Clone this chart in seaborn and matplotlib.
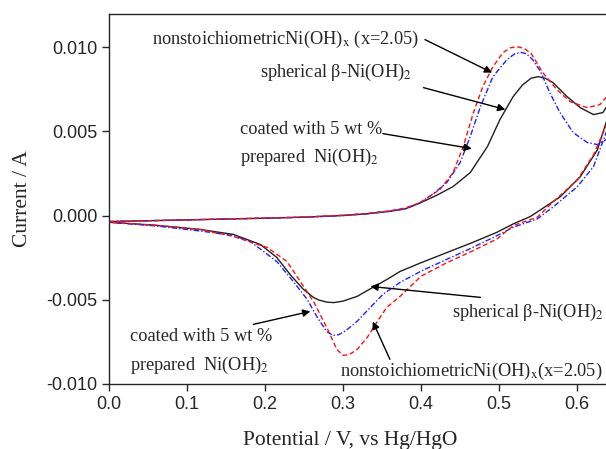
import numpy as np
import pandas as pd
import seaborn as sb
import matplotlib.pyplot as plt

# cyclic voltammograms: anodic sweep then cathodic sweep (V, A)
black_fwd_v = [0.0, 0.05, 0.1, 0.15, 0.2, 0.25, 0.3, 0.33, 0.36, 0.38, 0.399, 0.42, 0.441, 0.463,
               0.485, 0.501, 0.518, 0.53, 0.541, 0.55, 0.559, 0.569, 0.587, 0.604, 0.621, 0.633,
               0.648]
black_fwd = [-0.00036, -0.00031, -0.00026, -0.00021, -0.00016, -0.0001, 0.0, 0.0001, 0.00025,
             0.0004, 0.00075, 0.0012, 0.00172, 0.00255, 0.00409, 0.00569, 0.00706, 0.00775,
             0.00815, 0.00824, 0.00815, 0.00789, 0.00706, 0.0064, 0.00599, 0.00611, 0.0072]
black_rev_v = [0.648, 0.637, 0.626, 0.604, 0.578, 0.54, 0.518, 0.497, 0.466, 0.433, 0.4, 0.373,
               0.356, 0.338, 0.318, 0.3, 0.288, 0.279, 0.269, 0.262, 0.249, 0.232, 0.215, 0.194,
               0.159, 0.117, 0.06, 0.0]
black_rev = [0.0068, 0.0055, 0.0039, 0.0023, 0.0011, -0.00006, -0.0005, -0.001, -0.0016, -0.0022,
             -0.0028, -0.00332, -0.0038, -0.00427, -0.0048, -0.00508, -0.00517, -0.00514,
             -0.00502, -0.00486, -0.00438, -0.0035, -0.00249, -0.00172, -0.00112, -0.00083,
             -0.00058, -0.0004]

blue_fwd_v = [0.0, 0.05, 0.1, 0.15, 0.2, 0.25, 0.3, 0.33, 0.36, 0.38, 0.399, 0.416, 0.433, 0.45,
              0.463, 0.476, 0.492, 0.51, 0.52, 0.528, 0.535, 0.543, 0.553, 0.565, 0.578, 0.595,
              0.613, 0.626, 0.637, 0.648]
blue_fwd = [-0.00036, -0.00031, -0.00026, -0.00021, -0.00016, -0.0001, 0.0, 0.0001, 0.00025,
            0.0004, 0.00077, 0.0013, 0.00196, 0.00314, 0.00469, 0.00646, 0.00824, 0.00925,
            0.0096, 0.00968, 0.0096, 0.00925, 0.00855, 0.00729, 0.00611, 0.00492, 0.00433,
            0.00421, 0.0045, 0.0051]
blue_rev_v = [0.648, 0.637, 0.621, 0.6, 0.569, 0.549, 0.518, 0.497, 0.466, 0.433, 0.4, 0.373,
              0.351, 0.335, 0.318, 0.303, 0.294, 0.287, 0.279, 0.267, 0.254, 0.236, 0.215, 0.181,
              0.159, 0.117, 0.06, 0.0]
blue_rev = [0.0062, 0.0049, 0.0029, 0.0017, 0.0005, -0.0002, -0.0007, -0.0012, -0.0019, -0.0026,
            -0.0033, -0.00397, -0.00468, -0.00545, -0.00628, -0.00685, -0.00708, -0.00712,
            -0.00688, -0.00605, -0.00498, -0.00391, -0.00273, -0.00154, -0.00118, -0.00092,
            -0.00062, -0.0004]

red_fwd_v = [0.0, 0.05, 0.1, 0.15, 0.2, 0.25, 0.3, 0.33, 0.36, 0.38, 0.399, 0.424, 0.441, 0.454,
             0.467, 0.479, 0.492, 0.505, 0.514, 0.523, 0.532, 0.541, 0.556, 0.574, 0.591, 0.613,
             0.629, 0.637, 0.648]
red_fwd = [-0.00036, -0.00031, -0.00026, -0.0002, -0.00015, -0.00009, 0.00002, 0.00012, 0.00028,
           0.00045, 0.00077, 0.00154, 0.00255, 0.00409, 0.0061, 0.00764, 0.00883, 0.00966,
           0.00995, 0.01002, 0.00992, 0.00962, 0.00848, 0.00747, 0.00676, 0.0064, 0.00658,
           0.007, 0.0076]
red_rev_v = [0.648, 0.637, 0.621, 0.6, 0.569, 0.549, 0.518, 0.497, 0.466, 0.433, 0.4, 0.373,
             0.356, 0.344, 0.331, 0.318, 0.308, 0.3, 0.292, 0.279, 0.262, 0.245, 0.228, 0.203,
             0.159, 0.117, 0.06, 0.0]
red_rev = [0.0066, 0.0053, 0.0036, 0.0021, 0.0008, -0.0001, -0.0006, -0.0014, -0.0021, -0.0028,
           -0.0036, -0.0048, -0.00545, -0.00628, -0.00723, -0.00795, -0.00826, -0.0083, -0.00795,
           -0.00664, -0.0051, -0.00391, -0.00273, -0.0019, -0.00124, -0.00083, -0.00058,
           -0.0004]

sb.set_style('ticks')
plt.rcParams['font.family'] = ['Liberation Sans', 'DejaVu Sans']
plt.rcParams['mathtext.fontset'] = 'stix'

fig = plt.figure(figsize=(6.06, 4.49), dpi=100)
ax = fig.add_axes([0.18, 0.1448, 0.82, 0.824])

curves = [
    (black_fwd_v + black_rev_v, black_fwd + black_rev, '#202020', '-'),
    (blue_fwd_v + blue_rev_v, blue_fwd + blue_rev, '#2020ff', (0, (4, 1.5, 1, 1.5))),
    (red_fwd_v + red_rev_v, red_fwd + red_rev, '#ff1010', (0, (3.5, 2))),
]
for v, i, col, ls in curves:
    df = pd.DataFrame({'V': v, 'I': i})
    sb.lineplot(data=df, x='V', y='I', sort=False, estimator=None, color=col,
                linestyle=ls, linewidth=1.0, ax=ax)

ax.set_xlim(0, 0.637)
ax.set_ylim(-0.010, 0.01196)
ax.set_xticks([0.0, 0.1, 0.2, 0.3, 0.4, 0.5, 0.6])
ax.set_yticks([-0.010, -0.005, 0.0, 0.005, 0.010])
ax.xaxis.set_major_formatter(plt.FormatStrFormatter('%.1f'))
ax.yaxis.set_major_formatter(plt.FormatStrFormatter('%.3f'))
ax.tick_params(labelsize=13, length=5, width=1, direction='out')
ax.spines['right'].set_visible(False)
for s in ['left', 'bottom', 'top']:
    ax.spines[s].set_linewidth(1.0)

serif = 'Liberation Serif'
ax.set_xlabel('Potential / V, vs Hg/HgO', family=serif, fontsize=15.5)
ax.set_ylabel('Current / A', family=serif, fontsize=15.5)
ax.xaxis.set_label_coords(0.485, -0.128)
ax.yaxis.set_label_coords(-0.155, 0.5)

fs = 13.2
arrow = dict(arrowstyle='-|>', color='black', lw=1.0, mutation_scale=11, shrinkA=0, shrinkB=0)

ax.text(0.055, 0.01044, r'nonstoichiometricNi(OH)$_{\rm x}$ (x=2.05)', family=serif, fontsize=fs,
        ha='left', va='center')
ax.annotate('', xy=(0.491, 0.00848), xytext=(0.405, 0.01044), arrowprops=arrow)

ax.text(0.388, 0.0085, r'spherical β-Ni(OH)$_2$', family=serif, fontsize=fs, ha='right', va='center')
ax.annotate('', xy=(0.508, 0.00629), xytext=(0.403, 0.00759), arrowprops=arrow)

ax.text(0.168, 0.0051, 'coated with 5 wt %', family=serif, fontsize=fs, ha='left', va='center')
ax.text(0.168, 0.00344, r'prepared  Ni(OH)$_2$', family=serif, fontsize=fs, ha='left', va='center')
ax.annotate('', xy=(0.465, 0.00397), xytext=(0.351, 0.00486), arrowprops=arrow)

ax.text(0.44, -0.00575, r'spherical β-Ni(OH)$_2$', family=serif, fontsize=fs, ha='left', va='center')
ax.annotate('', xy=(0.335, -0.00421), xytext=(0.476, -0.00486), arrowprops=arrow)

ax.text(0.027, -0.00718, 'coated with 5 wt %', family=serif, fontsize=fs, ha='left', va='center')
ax.text(0.027, -0.0089, r'prepared  Ni(OH)$_2$', family=serif, fontsize=fs, ha='left', va='center')
ax.annotate('', xy=(0.258, -0.00569), xytext=(0.185, -0.00646), arrowprops=arrow)

ax.text(0.296, -0.00925, r'nonstoichiometricNi(OH)$_{\rm x}$(x=2.05)', family=serif, fontsize=fs,
        ha='left', va='center')
ax.annotate('', xy=(0.338, -0.00629), xytext=(0.360, -0.00854), arrowprops=arrow)

fig.savefig('out.png', dpi=100)
